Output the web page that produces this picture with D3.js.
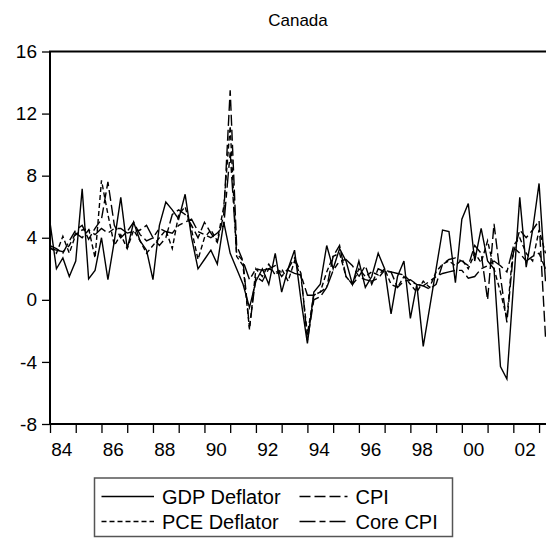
<!DOCTYPE html>
<html>
<head>
<meta charset="utf-8">
<script src="https://cdn.jsdelivr.net/npm/d3@7"></script>
<style>
body { margin: 0; background: #fff; }
svg { display: block; font-family: "Liberation Sans", Arial, sans-serif; }
</style>
</head>
<body>
<div id="chart"></div>
<script>
// quarterly, 1984Q1 .. 2003Q2
var startYear = 1984;
var gdpDeflator = [
  5.0, 2.0, 2.7, 1.5,   2.5, 7.15, 1.35, 1.9,   4.0, 1.3, 3.8, 6.6,   3.3, 5.0, 3.8, 3.2,
  1.3, 4.8, 6.3, 5.8,   5.2, 6.8, 4.0, 2.0,     2.6, 3.2, 2.3, 5.0,   3.0, 2.0, 1.0, -0.5,
  1.2, 2.0, 1.0, 3.0,   0.5, 2.0, 3.2, 0.0,     -2.8, 0.5, 1.0, 3.5,  2.0, 3.3, 2.5, 1.0,
  2.5, 0.8, 1.5, 3.0,   2.0, -0.9, 1.5, 2.5,    -1.2, 1.0, -3.0, -0.5, 2.0, 4.5, 4.4, 1.1,
  5.2, 6.2, 2.5, 4.6,   2.5, 2.0, -4.3, -5.1,   0.8, 6.6, 2.1, 4.5,   7.5, 1.2
];
var pceDeflator = [
  3.4, 3.0, 4.1, 3.0,   4.2, 4.5, 4.6, 2.7,   7.7, 5.5, 3.5, 4.2,   3.3, 4.5, 3.8, 3.0,
  3.5, 4.0, 4.5, 3.3,   5.5, 6.0, 4.5, 2.6,   4.0, 4.5, 3.8, 6.0,   11.2, 2.8, 2.2, -1.9,
  2.0, 1.5, 2.3, 1.6,   2.0, 1.2, 2.5, 1.5,   -2.2, 0.3, 0.5, 1.8,  2.8, 3.0, 1.5, 1.0,
  2.0, 1.5, 1.8, 1.6,   2.0, 1.0, 0.8, 1.5,   1.0, 0.5, 1.2, 0.8,   1.8, 2.3, 2.5, 2.2,
  2.6, 2.0, 3.0, 2.4,   3.8, 2.0, 0.5, -1.2,  3.5, 4.0, 3.0, 2.5,   4.5, 3.0
];
var cpi = [
  3.5, 3.3, 3.0, 3.8,   4.5, 4.8, 3.9, 4.6,   5.2, 7.6, 4.8, 4.0,   4.4, 5.0, 4.2, 3.8,
  4.0, 3.5, 4.0, 5.5,   5.8, 5.5, 4.8, 4.0,   5.0, 4.3, 3.7, 5.5,   13.5, 3.5, 2.5, -1.8,
  1.5, 1.2, 2.0, 2.2,   1.5, 2.0, 2.7, 1.7,   -2.6, 0.0, 0.2, 0.8,  2.8, 3.5, 1.5, 1.0,
  1.5, 2.2, 1.0, 2.0,   1.8, 1.8, 0.8, 1.2,   1.3, 1.0, 0.9, 0.7,   1.0, 2.3, 2.6, 2.7,
  2.5, 2.2, 3.5, 3.0,   0.0, 4.9, 1.5, -1.45, 3.0, 4.5, 4.0, 4.5,   5.1, -2.4
];
var coreCpi = [
  3.3, 3.2, 3.1, 3.5,   4.3, 4.0, 4.5, 4.2,   4.6, 4.3, 4.6, 4.6,   4.3, 4.4, 4.5, 4.8,
  4.0, 4.6, 4.4, 4.3,   4.8, 5.0, 5.2, 4.4,   4.2, 4.0, 4.3, 4.8,   9.5, 3.0, 2.5, 1.3,
  2.0, 1.9, 2.0, 1.8,   1.8, 1.9, 1.7, 1.6,   0.3, 0.3, 0.5, 0.8,   1.9, 2.5, 2.6, 2.2,
  1.5, 1.3, 1.2, 1.4,   1.9, 1.8, 1.7, 1.6,   1.2, 1.0, 0.9, 1.2,   1.5, 1.7, 1.8, 1.9,
  1.9, 1.4, 1.5, 2.0,   2.2, 2.5, 2.2, 1.8,   3.4, 3.0, 2.5, 2.8,   3.0, 2.0
];
var seriesNames = ["GDP Deflator", "PCE Deflator", "CPI", "Core CPI"];
var dashes = [null, "5,3", "11,4", "16,4,6,4"];
var yTicks = [-8, -4, 0, 4, 8, 12, 16];
var xLabelYears = [1984, 1986, 1988, 1990, 1992, 1994, 1996, 1998, 2000, 2002];

var width = 546, height = 540;
var plotLeft = 50, plotRight = 547, plotTop = 51.5, plotBottom = 424;

var svg = d3.select("#chart").append("svg")
    .attr("width", width)
    .attr("height", height);

var x = d3.scaleLinear().domain([1984, 2003.25]).range([plotLeft, 545.5]);
var y = d3.scaleLinear().domain([-8, 16]).range([plotBottom, plotTop]);

// title
svg.append("text")
    .attr("x", 298).attr("y", 26)
    .attr("text-anchor", "middle")
    .style("font-size", "17px")
    .text("Canada");

// y axis
var yAxis = svg.append("g")
    .attr("transform", "translate(" + plotLeft + ",0)")
    .call(d3.axisLeft(y).tickValues(yTicks).tickSize(8).tickPadding(5).tickFormat(d => String(d)));
yAxis.select(".domain").remove();
yAxis.selectAll("line").attr("stroke", "#000").attr("stroke-width", 1.3);
yAxis.selectAll("text").style("font-size", "19px").attr("fill", "#000").attr("font-family", null);

// x axis ticks at each year start
var xAxis = svg.append("g")
    .attr("transform", "translate(0," + plotBottom + ")")
    .call(d3.axisBottom(x).tickValues(d3.range(1984, 2004)).tickSize(9).tickFormat(""));
xAxis.select(".domain").remove();
xAxis.selectAll("line").attr("stroke", "#000").attr("stroke-width", 1.3);

svg.append("g").selectAll("text")
    .data(xLabelYears).enter()
    .append("text")
    .attr("x", d => x(d + 0.5) - 1)
    .attr("y", plotBottom + 32)
    .attr("text-anchor", "middle")
    .style("font-size", "19px")
    .text(d => String(d % 100).padStart(2, "0"));

// frame
svg.append("rect")
    .attr("x", plotLeft).attr("y", plotTop)
    .attr("width", plotRight - plotLeft).attr("height", plotBottom - plotTop)
    .attr("fill", "none")
    .attr("stroke", "#000")
    .attr("stroke-width", 2);

// lines
var allSeries = [gdpDeflator, pceDeflator, cpi, coreCpi];
var line = d3.line()
    .x((d, i) => x(startYear + i / 4))
    .y(d => y(d));

svg.append("g").selectAll("path")
    .data(allSeries).enter()
    .append("path")
    .attr("d", d => line(d))
    .attr("fill", "none")
    .attr("stroke", "#000")
    .attr("stroke-width", 1.4)
    .attr("stroke-linejoin", "miter")
    .attr("stroke-dasharray", (d, i) => dashes[i]);

// legend
var legend = svg.append("g");
legend.append("rect")
    .attr("x", 94.5).attr("y", 478)
    .attr("width", 358).attr("height", 58.5)
    .attr("fill", "#fff")
    .attr("stroke", "#555")
    .attr("stroke-width", 1.5);

var legendPos = [
  { lx: 101.5, ly: 496.5 },
  { lx: 101.5, ly: 521.5 },
  { lx: 299.5, ly: 496.5 },
  { lx: 299.5, ly: 521.5 }
];
var sampleLen = [52.5, 52.5, 48, 48];

seriesNames.forEach(function (name, i) {
    var p = legendPos[i];
    legend.append("line")
        .attr("x1", p.lx).attr("x2", p.lx + sampleLen[i])
        .attr("y1", p.ly).attr("y2", p.ly)
        .attr("stroke", "#000")
        .attr("stroke-width", 1.4)
        .attr("stroke-dasharray", dashes[i]);
    legend.append("text")
        .attr("x", p.lx + sampleLen[i] + 8)
        .attr("y", p.ly + 7)
        .style("font-size", "20px")
        .text(name);
});
</script>
</body>
</html>
